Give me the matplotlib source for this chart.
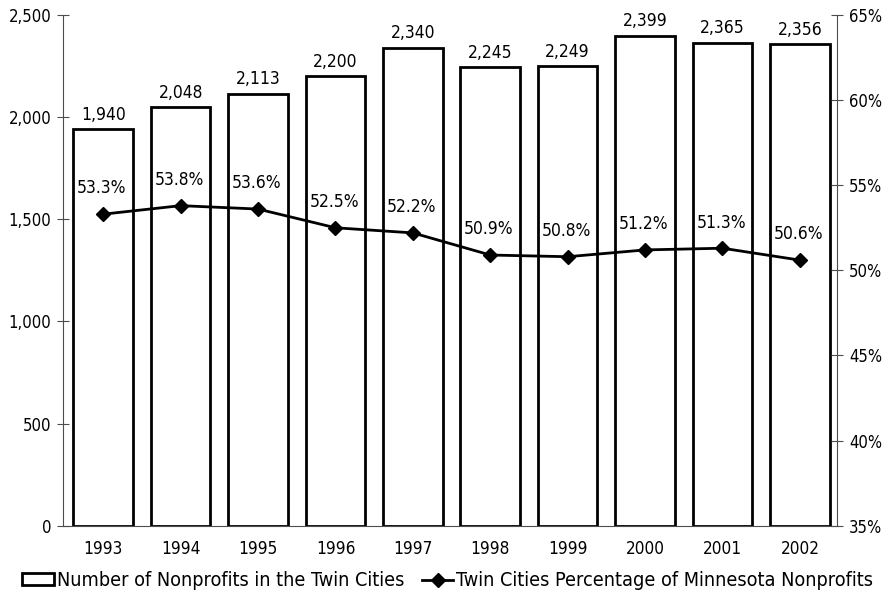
import matplotlib
matplotlib.use("Agg")
import matplotlib.pyplot as plt
from matplotlib.ticker import FuncFormatter

years = ["1993", "1994", "1995", "1996", "1997", "1998", "1999", "2000", "2001", "2002"]
nonprofits = [1940, 2048, 2113, 2200, 2340, 2245, 2249, 2399, 2365, 2356]
pct_share = [53.3, 53.8, 53.6, 52.5, 52.2, 50.9, 50.8, 51.2, 51.3, 50.6]

plt.rcParams["font.family"] = ["DejaVu Sans"]
plt.rcParams["font.stretch"] = "condensed"

fig = plt.figure(figsize=(8.85, 5.95), dpi=100)
ax = fig.add_axes([0.0712, 0.1165, 0.8746, 0.8583])
x = list(range(len(years)))

# counts as open bars on the left axis
bars = ax.bar(x, nonprofits, width=0.77, color="white", edgecolor="black",
              linewidth=2.0, label="Number of Nonprofits in the Twin Cities", zorder=2)
for xi, v in zip(x, nonprofits):
    ax.annotate(f"{v:,}", (xi, v), xytext=(0, 4), textcoords="offset points",
                ha="center", va="bottom", fontsize=12.5)

ax.set_ylim(0, 2500)
ax.set_yticks(range(0, 2501, 500))
ax.yaxis.set_major_formatter(FuncFormatter(lambda v, _: f"{int(v):,}"))
ax.set_xlim(-0.52, len(years) - 0.52)
ax.set_xticks(x)
ax.set_xticklabels(years)
ax.tick_params(axis="x", length=0, pad=10, labelsize=12.3)
ax.tick_params(axis="y", direction="inout", length=9, width=0.8, labelsize=12,
               color="0.3", pad=4)

# share of state total on the right axis
ax2 = ax.twinx()
line, = ax2.plot(x, pct_share, color="black", linewidth=2.0, marker="D",
                 markersize=7, label="Twin Cities Percentage of Minnesota Nonprofits", zorder=3)
for xi, v in zip(x, pct_share):
    ax2.annotate(f"{v:.1f}%", (xi, v), xytext=(-1, 12), textcoords="offset points",
                 ha="center", va="bottom", fontsize=12.5)
ax2.set_ylim(35, 65)
ax2.set_yticks(range(35, 66, 5))
ax2.yaxis.set_major_formatter(FuncFormatter(lambda v, _: f"{int(v)}%"))
ax2.tick_params(axis="y", direction="inout", length=9, width=0.8, labelsize=12,
                color="0.3", pad=4)

for a in (ax, ax2):
    a.spines["top"].set_visible(False)
    for side in ("left", "right", "bottom"):
        a.spines[side].set_color("0.3")
        a.spines[side].set_linewidth(0.8)
ax.spines["right"].set_visible(False)
ax2.spines["left"].set_visible(False)
ax2.spines["bottom"].set_visible(False)

fig.legend(handles=[bars, line], loc="lower center", bbox_to_anchor=(0.506, -0.022),
           ncol=2, frameon=False, fontsize=14.2, handlelength=1.6, handleheight=0.55,
           handletextpad=0.15, columnspacing=0.9)

fig.savefig("out.png", dpi=100)
